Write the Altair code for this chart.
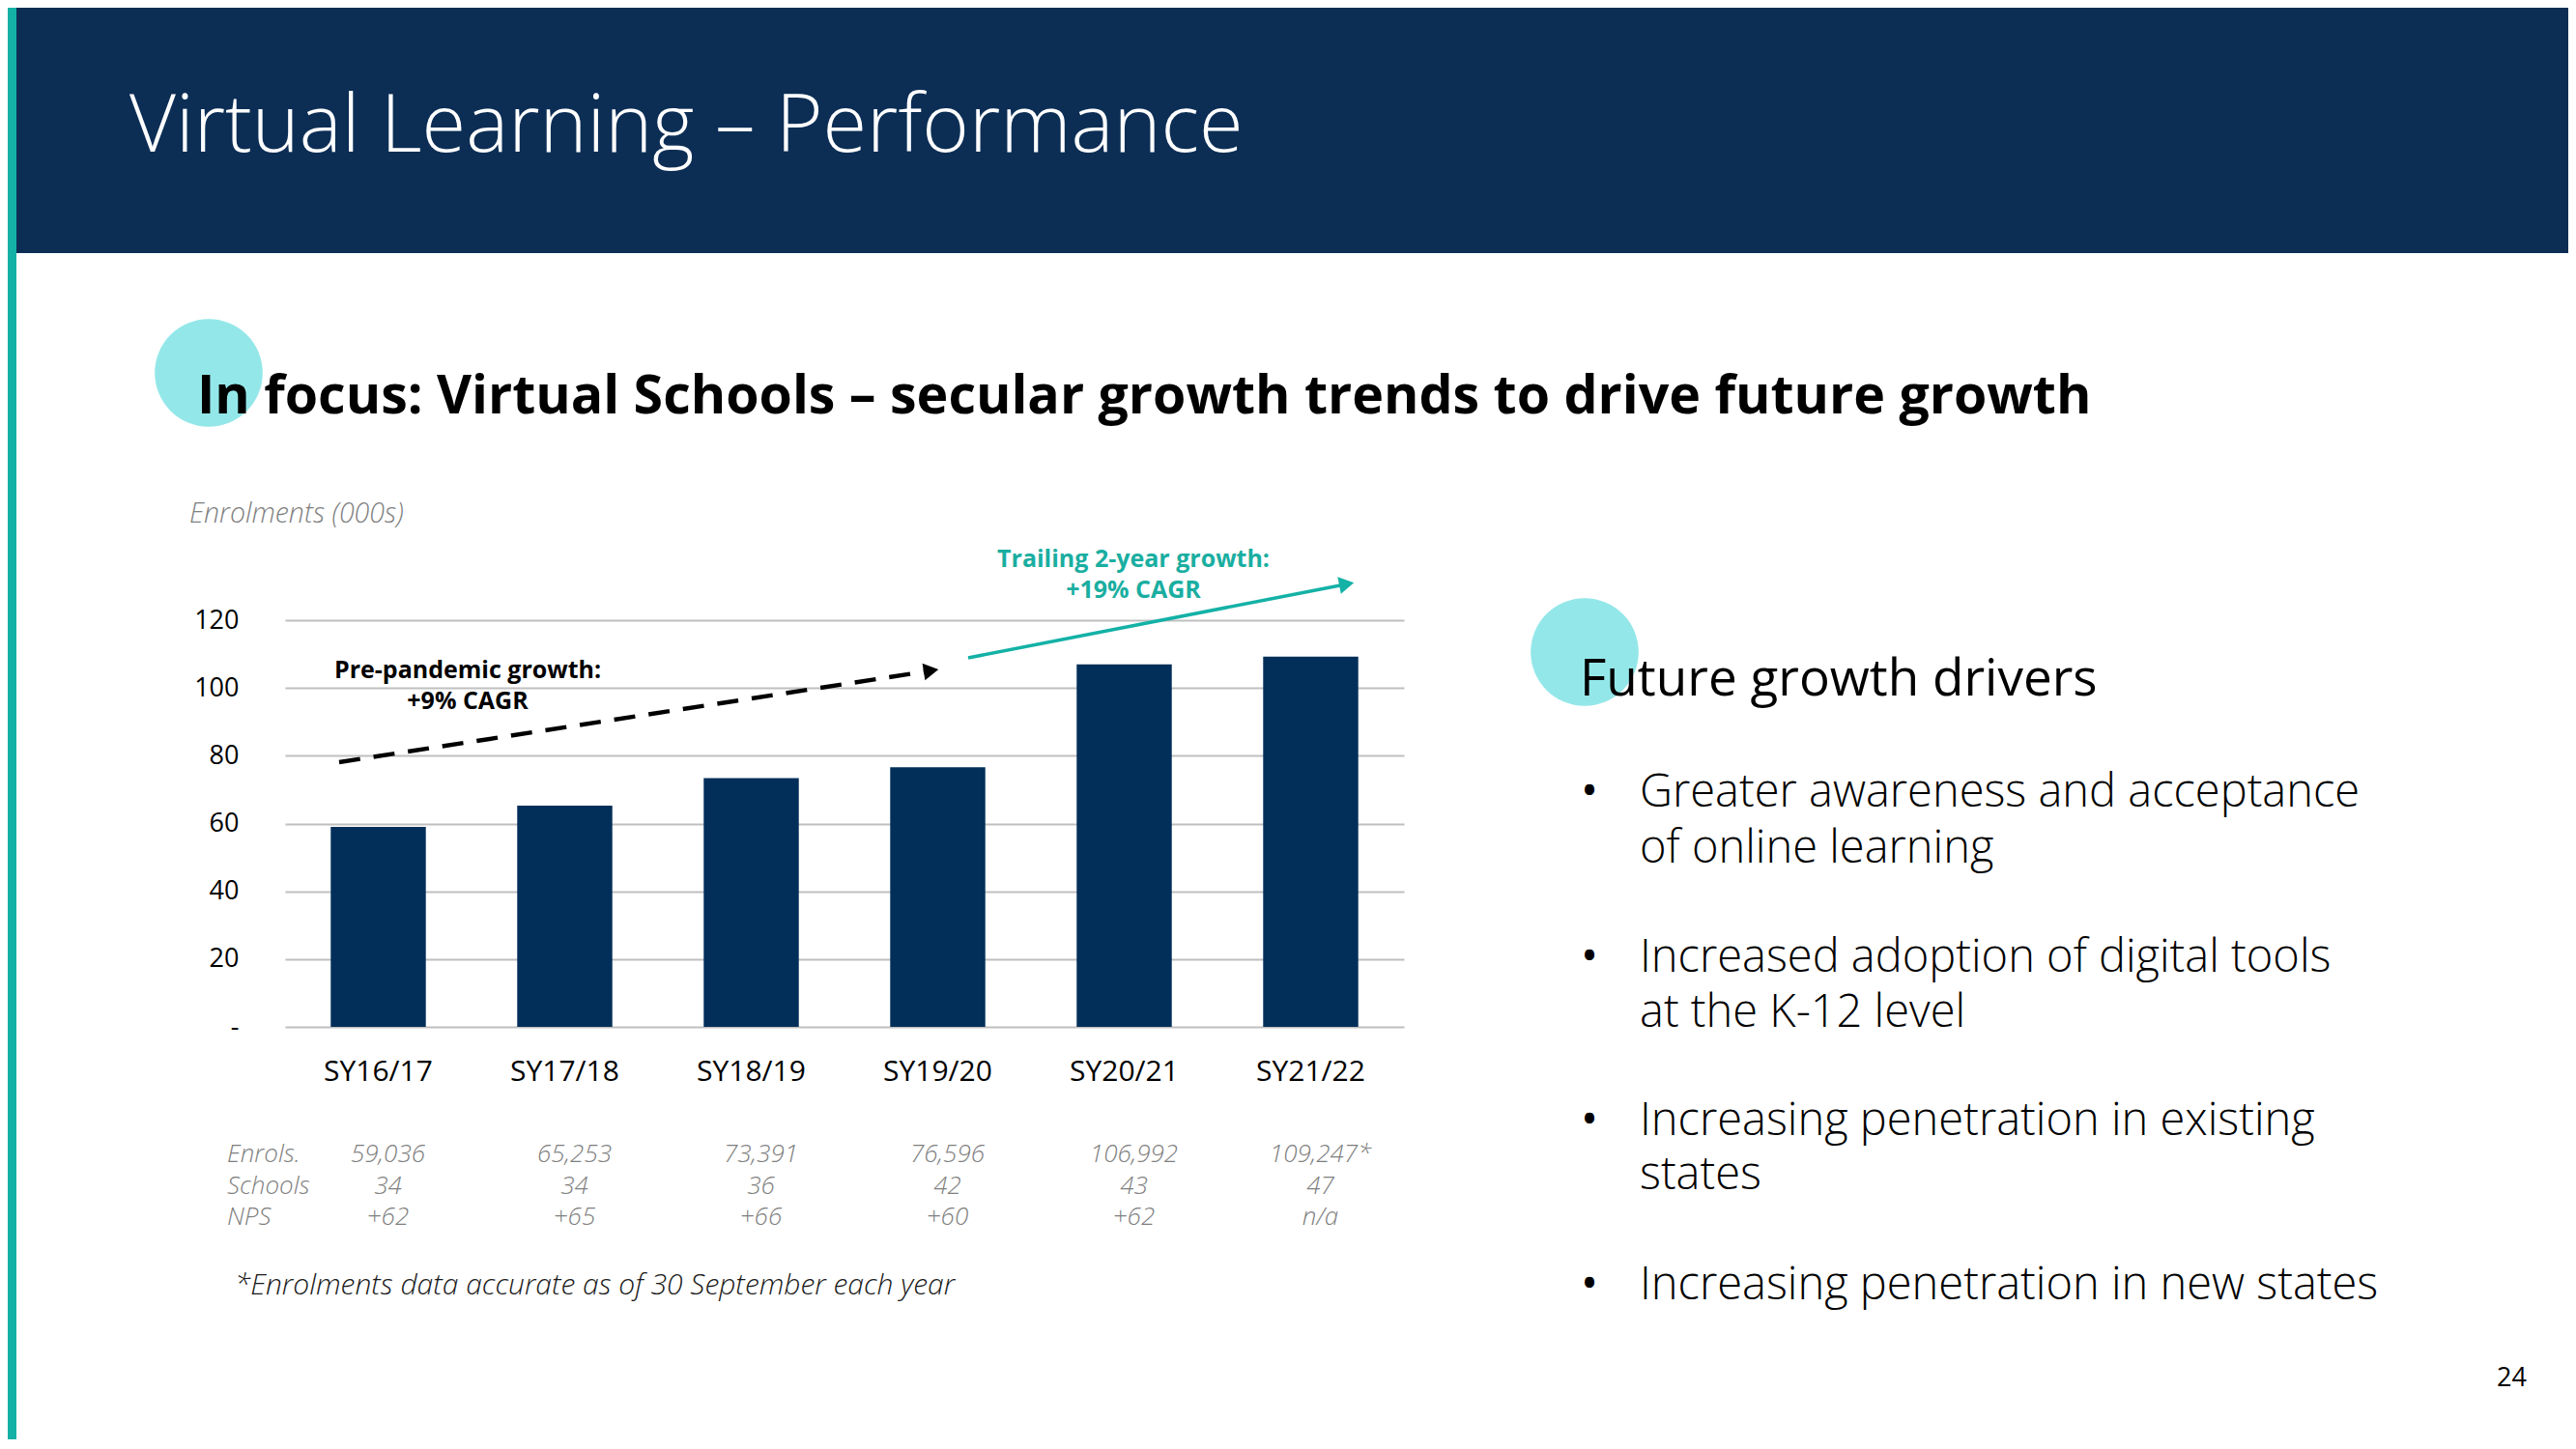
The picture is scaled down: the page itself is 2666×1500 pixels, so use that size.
import altair as alt
import pandas as pd
import math

# ---------------- data ----------------
categories = ["SY16/17", "SY17/18", "SY18/19", "SY19/20", "SY20/21", "SY21/22"]
enrolments_k = [59.036, 65.253, 73.391, 76.596, 106.992, 109.247]
enrol_labels = ["59,036", "65,253", "73,391", "76,596", "106,992", "109,247*"]
schools = ["34", "34", "36", "42", "43", "47"]
nps = ["+62", "+65", "+66", "+60", "+62", "n/a"]
y_ticks = [0, 20, 40, 60, 80, 100, 120]
row_names = ["Enrols.", "Schools", "NPS"]

title_text = "Virtual Learning \u2013 Performance"
subtitle_text = "In focus: Virtual Schools \u2013 secular growth trends to drive future growth"
y_title_text = "Enrolments (000s)"
pre_text = ["Pre-pandemic growth:", "+9% CAGR"]
trail_text = ["Trailing 2-year growth:", "+19% CAGR"]
footnote_text = "*Enrolments data accurate as of 30 September each year"
drivers_title = "Future growth drivers"
drivers_lines = [
    ["Greater awareness and acceptance", "of online learning"],
    ["Increased adoption of digital tools", "at the K-12 level"],
    ["Increasing penetration in existing", "states"],
    ["Increasing penetration in new states"],
]
page_number = "24"

# ---------------- style ----------------
FONT = "Open Sans"
NAVY_HEADER = "#0C2E55"
BAR = "#012F59"
TEAL = "#14B1A6"
TEAL_TEXT = "#1AAEA1"
CIRCLE = "#94E7E9"
GRID = "#BFBFBF"
GRAY = "#7F7F7F"

# view origin on the page (plot area top-left)
OX, OY = 295, 642
W, H = 1158, 421


def px(x):
    return x - OX


def py(y):
    return y - OY


def txt(text, x, y, **kw):
    d = pd.DataFrame({"t": [text]})
    props = dict(font=FONT, align="left", baseline="alphabetic")
    props.update(kw)
    return alt.Chart(d).mark_text(**props).encode(
        text="t:N", x=alt.value(px(x)), y=alt.value(py(y))
    )


one = pd.DataFrame({"k": [0]})


def rect(x1, y1, x2, y2, color):
    return alt.Chart(one).mark_rect(color=color).encode(
        x=alt.value(px(x1)), x2=alt.value(px(x2)),
        y=alt.value(py(y1)), y2=alt.value(py(y2)))


def circle(cx, cy, r, color):
    return alt.Chart(one).mark_circle(color=color, opacity=1, size=math.pi * r * r).encode(
        x=alt.value(px(cx)), y=alt.value(py(cy)))


def arrow(x1, y1, x2, y2, color, width, dash=None, head=16):
    ang = math.degrees(math.atan2(y2 - y1, x2 - x1))
    L = math.hypot(x2 - x1, y2 - y1)
    ux, uy = (x2 - x1) / L, (y2 - y1) / L
    ex, ey = x2 - ux * head * 0.9, y2 - uy * head * 0.9
    cx, cy = x2 - ux * head * 0.5, y2 - uy * head * 0.5
    rk = dict(color=color, strokeWidth=width)
    if dash:
        rk["strokeDash"] = dash
    line = alt.Chart(one).mark_rule(**rk).encode(
        x=alt.value(px(x1)), y=alt.value(py(y1)),
        x2=alt.value(px(ex)), y2=alt.value(py(ey)))
    tri = alt.Chart(one).mark_point(
        shape="triangle-right", filled=True, color=color, opacity=1,
        size=head * head * 1.1, angle=(ang + 360) % 360, strokeWidth=0
    ).encode(x=alt.value(px(cx)), y=alt.value(py(cy)))
    return [line, tri]


bars_df = pd.DataFrame({"cat": categories, "val": enrolments_k,
                        "enr": enrol_labels, "sch": schools, "nps": nps})

xenc = alt.X("cat:N", sort=categories,
             scale=alt.Scale(paddingInner=0.49, paddingOuter=0.245),
             axis=alt.Axis(title=None, labelAngle=0, labelFont=FONT, labelFontSize=30,
                           labelColor="#000000", labelPadding=31, ticks=False,
                           domain=False, grid=False))
yenc = alt.Y("val:Q", scale=alt.Scale(domain=[0, 120], nice=False),
             axis=alt.Axis(values=y_ticks, title=None,
                           labelExpr="datum.value == 0 ? '-' : datum.label",
                           labelFont=FONT, labelFontSize=27, labelColor="#000000",
                           labelPadding=48, ticks=False, domain=False,
                           gridColor=GRID, gridWidth=2))

bars = alt.Chart(bars_df).mark_bar(color=BAR).encode(x=xenc, y=yenc)

table_layers = []
row_base = [1203, 1236, 1268]
for field, yb in zip(["enr", "sch", "nps"], row_base):
    table_layers.append(
        alt.Chart(bars_df).mark_text(font=FONT, fontSize=26, fontStyle="italic",
                                     fontWeight=300, color=GRAY, baseline="alphabetic",
                                     dx=10)
        .encode(x=alt.X("cat:N", sort=categories), y=alt.value(py(yb)), text=f"{field}:N"))
for name, yb in zip(row_names, row_base):
    table_layers.append(txt(name, 235, yb, fontSize=26, fontStyle="italic",
                            fontWeight=300, color=GRAY))

layers = []
layers.append(rect(8, 8, 17, 1500, TEAL))
layers.append(rect(17, 8, 2670, 262, NAVY_HEADER))
layers.append(txt(title_text, 134, 157, fontSize=83, fontWeight=300, color="#FFFFFF"))
layers.append(circle(216, 386, 63, CIRCLE))
layers.append(txt(subtitle_text, 204, 428, fontSize=55.5, fontWeight="bold", color="#000000"))
layers.append(txt(y_title_text, 196, 541, fontSize=28.5, fontStyle="italic",
                  fontWeight=300, color=GRAY))
layers.append(bars)
layers += arrow(351, 789, 972, 693, "#000000", 4.5, dash=[22, 14], head=17)
layers += arrow(1002, 681, 1402, 603, TEAL, 3.5, head=17)
layers.append(txt(pre_text[0], 484, 702, fontSize=25, fontWeight="bold",
                  color="#000000", align="center"))
layers.append(txt(pre_text[1], 484, 734, fontSize=25, fontWeight="bold",
                  color="#000000", align="center"))
layers.append(txt(trail_text[0], 1173, 587, fontSize=25, fontWeight="bold",
                  color=TEAL_TEXT, align="center"))
layers.append(txt(trail_text[1], 1173, 619, fontSize=25, fontWeight="bold",
                  color=TEAL_TEXT, align="center"))
layers += table_layers
layers.append(txt(footnote_text, 243, 1340, fontSize=30, fontStyle="italic",
                  fontWeight=300, color="#1A1A1A"))
layers.append(circle(1640, 675, 63, CIRCLE))
layers.append(txt(drivers_title, 1635, 720, fontSize=53, color="#000000"))

bullet_bases = [[835, 893], [1006, 1063], [1175, 1231], [1345]]
for lines, bases in zip(drivers_lines, bullet_bases):
    layers.append(txt("\u2022", 1636, bases[0], fontSize=48, color="#000000"))
    for ln, yb in zip(lines, bases):
        layers.append(txt(ln, 1697, yb, fontSize=47, fontWeight=300, color="#000000"))

layers.append(txt(page_number, 2584, 1435, fontSize=27, color="#000000"))

chart = alt.layer(*layers).properties(
    width=W, height=H,
    background="#FFFFFF",
    padding={"left": OX - 8, "top": OY - 8, "right": 2650 - (OX - 8) - W,
             "bottom": 1482 - (OY - 8) - H},
    autosize=alt.AutoSizeParams(type="none"),
).configure_view(stroke=None)

chart.save("out.html", embed_options={"renderer": "svg", "actions": False})
